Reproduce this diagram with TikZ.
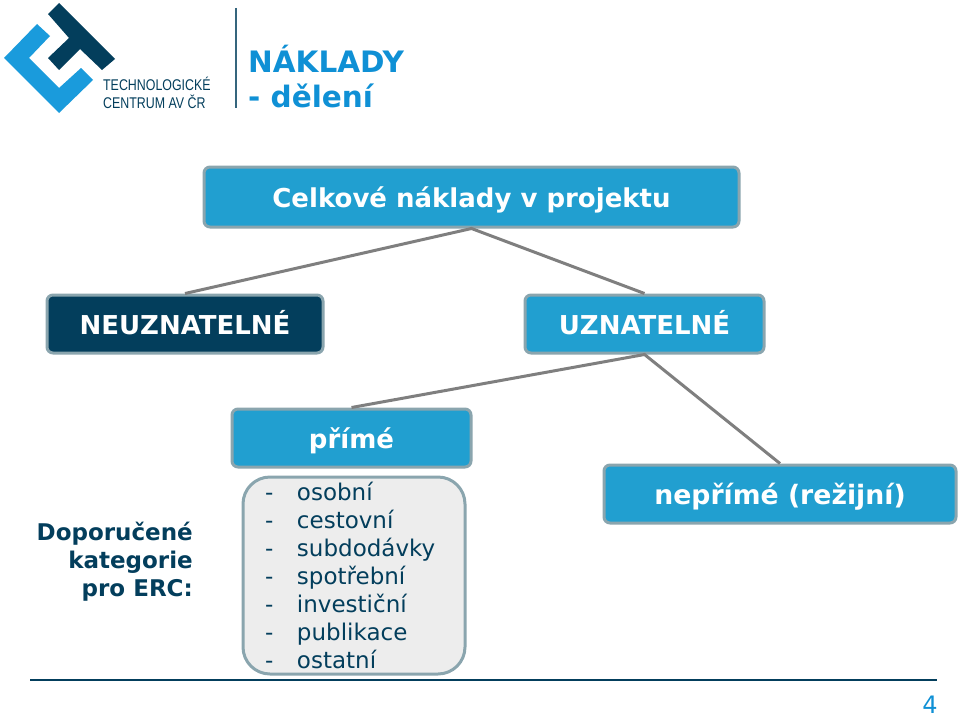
\documentclass[tikz,border=0pt]{standalone}
\usepackage{fontspec}
\setmainfont{DejaVu Sans}
\newfontfamily\logofont{Liberation Sans}
\usetikzlibrary{positioning}
\definecolor{ctublue}{HTML}{219FD0}
\definecolor{ctudark}{HTML}{033E5C}
\definecolor{ctuedge}{HTML}{8AA5AE}
\definecolor{ctutitle}{HTML}{0F90D5}
\definecolor{ctulogo}{HTML}{1A9BDC}
\definecolor{ctuline}{HTML}{7F7F7F}
\newcommand{\dashitem}[1]{\makebox[32pt][l]{-}#1}
\tikzset{
  blockbox/.style={draw=ctuedge, line width=3pt, fill=ctublue, rounded corners=6pt, text=white, font=\fontsize{26}{30}\selectfont\bfseries, inner sep=0pt, text height=20pt, text depth=0pt},
  listbox/.style={draw=ctuedge, line width=3pt, fill=black!7, rounded corners=27pt, text=ctudark, font=\fontsize{23}{28}\selectfont, inner sep=0pt, align=left},
  branch/.style={draw=ctuline, line width=3pt},
  headtext/.style={text=ctutitle, font=\fontsize{29.5}{36}\selectfont\bfseries, anchor=base west, inner sep=0pt},
  logotext/.style={text=ctudark, font=\logofont\fontsize{15.5}{20}\selectfont, xscale=.8, anchor=base west, inner sep=0pt}
}
\begin{document}
\begin{tikzpicture}[x=1pt, y=-1pt]
  \useasboundingbox (0,0) rectangle (960,717);

  % logo
  \fill[ctulogo] (4,58) -- (37,24) -- (50,36) -- (29,58) -- (59,88) -- (81,68) -- (93,80) -- (59,113) -- cycle;
  \fill[ctudark] (48,14) -- (59,3) -- (115,59) -- (102,70) -- (80,49) -- (59,70) -- (48,58) -- (69,38) -- cycle;
  \node[logotext] (logoa) at (103,90) {TECHNOLOGICKÉ};
  \node[logotext] (logob) at (103,108) {CENTRUM AV ČR};
  \draw[ctudark!80, line width=1.5pt] (236,8) -- (236,108);

  % heading
  \node[headtext] (heada) at (248,72) {NÁKLADY};
  \node[headtext] (headb) at (248,107) {- dělení};

  % boxes
  \node[blockbox, minimum width=535pt, minimum height=60pt] (total) at (471.5,197) {Celkové náklady v projektu};
  \node[blockbox, minimum width=276pt, minimum height=58pt, fill=ctudark] (neuzn) at (185,324) {NEUZNATELNÉ};
  \node[blockbox, minimum width=239pt, minimum height=58pt] (uzn) at (644.5,324) {UZNATELNÉ};
  \node[blockbox, minimum width=239pt, minimum height=58pt] (prime) at (351.5,438) {přímé};
  \node[blockbox, minimum width=352pt, minimum height=58pt, font=\fontsize{26.7}{30}\selectfont\bfseries] (neprime) at (780,494) {nepřímé (režijní)};

  \node[listbox, minimum width=222pt, minimum height=197pt, text width=178pt, inner xsep=22pt] (items) at (354,575.5) {%
    \dashitem{osobní}\\
    \dashitem{cestovní}\\
    \dashitem{subdodávky}\\
    \dashitem{spotřební}\\
    \dashitem{investiční}\\
    \dashitem{publikace}\\
    \dashitem{ostatní}};

  \node[text=ctudark, font=\fontsize{23}{28}\selectfont\bfseries, align=right, anchor=north east, inner sep=0pt] (erc) at (193,522) {Doporučené\\kategorie\\pro ERC:};

  % connectors
  \draw[branch] (neuzn.north) -- (total.south) -- (uzn.north);
  \draw[branch] (prime.north) -- (uzn.south) -- (neprime.north);

  % footer
  \coordinate (footl) at (30,680);
  \coordinate (footr) at (937,680);
  \draw[ctudark, line width=1.3pt] (footl) -- (footr);
  \node[text=ctutitle, font=\fontsize{24}{26}\selectfont, anchor=base, inner sep=0pt] (pageno) at (930,713) {4};
\end{tikzpicture}
\end{document}
